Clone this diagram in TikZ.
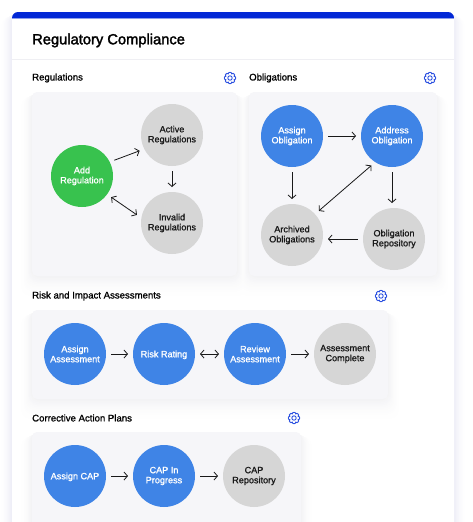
\documentclass[tikz,border=0pt]{standalone}
\usepackage{fontspec}
\setmainfont[FakeBold=1.0]{Liberation Sans}
\newfontfamily\titlefont[FakeBold=2.0]{Liberation Sans}
\usetikzlibrary{arrows.meta,positioning,calc}

\definecolor{bandblue}{HTML}{0228D6}
\definecolor{flowblue}{HTML}{3F84E6}
\definecolor{addgreen}{HTML}{38C24E}
\definecolor{stategrey}{HTML}{D6D6D6}
\definecolor{panelgrey}{HTML}{F6F6F9}
\definecolor{gearblue}{HTML}{2A4FE0}
\definecolor{ruleline}{HTML}{EFEFF3}
\definecolor{cardtint}{HTML}{EEEEF7}
\definecolor{paneltint}{HTML}{F3F3F5}

\tikzset{
    state/.style={circle, minimum size=62pt, inner sep=0pt, outer sep=5pt, align=center, font=\fontsize{9.1}{10}\selectfont, execute at begin node={\rule{0pt}{8.4pt}}},
    bluestate/.style={state, fill=flowblue, text=white},
    greenstate/.style={state, fill=addgreen, text=white},
    greystate/.style={state, fill=stategrey, text=black!90},
    heading/.style={anchor=west, inner sep=0pt, font=\fontsize{9.6}{11}\selectfont},
    flow/.style={-{Straight Barb[length=3.5pt,width=8pt]}, line width=0.8pt, black!90},
    flowboth/.style={{Straight Barb[length=3.5pt,width=8pt]}-{Straight Barb[length=3.5pt,width=8pt]}, line width=0.8pt, black!90},
    pics/gearicon/.style={code={
        \draw[gearblue, line width=0.9pt, line join=round]
            (0:5.6) \foreach \a in {45,90,...,360} {
                -- (\a-33:5.6) -- (\a-22.5:4.3) -- (\a-12:5.6) -- (\a:5.6)
            } -- cycle;
        \draw[gearblue, line width=0.9pt] (0,0) circle (2.2);
    }}
}

% soft shadows: tint, then a list x1/y1/x2/y2
\newcommand{\softshadow}[2]{
    \foreach \s [evaluate=\s as \p using {100*((16-\s)/15)^2}] in {15,14,...,1} {
        \foreach \xa/\ya/\xb/\yb in {#2} {
            \fill[#1!\p!white, rounded corners=9pt]
                ($(\xa,\ya)+(-\s*0.8,\s*0.4)$) rectangle ($(\xb,\yb)+(\s*0.8,\s*1.5)$);
        }
    }
}

\begin{document}
\begin{tikzpicture}[x=1pt, y=-1pt]
    \useasboundingbox (0,0) rectangle (472,522);
    \fill[white] (0,0) rectangle (472,522);
    \begin{scope}
    \clip (0,0) rectangle (472,522);

    % card
    \softshadow{cardtint}{12/12/454/560}
    \fill[white, rounded corners=6pt] (12,12) rectangle (454,560);
    \begin{scope}
        \clip[rounded corners=6pt] (12,12) rectangle (454,560);
        \fill[bandblue] (12,12) rectangle (454,18);
        \fill[bandblue!45] (12,18) rectangle (454,18.7);
    \end{scope}
    \draw[ruleline, line width=0.6pt] (12,59.5) -- (454,59.5);
    \node[anchor=west, inner sep=0pt, font=\titlefont\fontsize{14.7}{16}\selectfont, yshift=-0.5pt] (title) at (32,40) {Regulatory Compliance};

    % panels
    \softshadow{paneltint}{32/92/237/276, 249/92/437/276, 32/310/388/399, 32/432/301/540}
    \fill[panelgrey, rounded corners=5pt] (32,92) rectangle (237,276);
    \fill[panelgrey, rounded corners=5pt] (249,92) rectangle (437,276);
    \fill[panelgrey, rounded corners=5pt] (32,310) rectangle (388,399);
    \fill[panelgrey, rounded corners=5pt] (32,432) rectangle (301,540);

    % headings
    \node[heading] (regs) at (32,78) {Regulations};
    \node[heading] (obls) at (249,78) {Obligations};
    \node[heading] (risk) at (32,296) {Risk and Impact Assessments};
    \node[heading] (caps) at (32,418) {Corrective Action Plans};
    \pic at (230,78) {gearicon};
    \pic at (430,78) {gearicon};
    \pic at (381,296) {gearicon};
    \pic at (294,418) {gearicon};

    % regulations
    \node[greenstate] (add) at (82,176) {Add\\Regulation};
    \node[greystate] (active) at (172,135) {Active\\Regulations};
    \node[greystate] (invalid) at (172,223) {Invalid\\Regulations};
    \draw[flow] (add.26) -- (active.206);
    \draw[flow] (active.south) -- (invalid.north);
    \draw[flowboth] (add.-36) -- (invalid.167);

    % obligations
    \node[bluestate] (assign) at (292,136) {Assign\\Obligation};
    \node[bluestate] (address) at (392,136) {Address\\Obligation};
    \node[greystate] (archived) at (292,235) {Archived\\Obligations};
    \node[greystate] (repo) at (394,239) {Obligation\\Repository};
    \draw[flow] (assign.east) -- (address.west);
    \draw[flow] (assign.south) -- (archived.north);
    \draw[flow] (address.south) -- (address.south |- repo.north);
    \draw[flow] (repo.west) -- (repo.west -| archived.east);
    \draw[flowboth] (archived.42) -- (address.235);

    % risk and impact
    \node[bluestate] (asmt) at (75,354) {Assign\\Assessment};
    \node[bluestate] (rating) at (164,354) {Risk Rating};
    \node[bluestate] (review) at (255,354) {Review\\Assessment};
    \node[greystate] (done) at (345,354) {Assessment\\Complete};
    \draw[flow] (asmt.east) -- (rating.west);
    \draw[flowboth] (rating.east) -- (review.west);
    \draw[flow] (review.east) -- (done.west);

    % corrective action
    \node[bluestate] (cap) at (75,476) {Assign CAP};
    \node[bluestate] (progress) at (164,476) {CAP In\\Progress};
    \node[greystate] (caprepo) at (254,476) {CAP\\Repository};
    \draw[flow] (cap.east) -- (progress.west);
    \draw[flow] (progress.east) -- (caprepo.west);
    \end{scope}
\end{tikzpicture}
\end{document}
